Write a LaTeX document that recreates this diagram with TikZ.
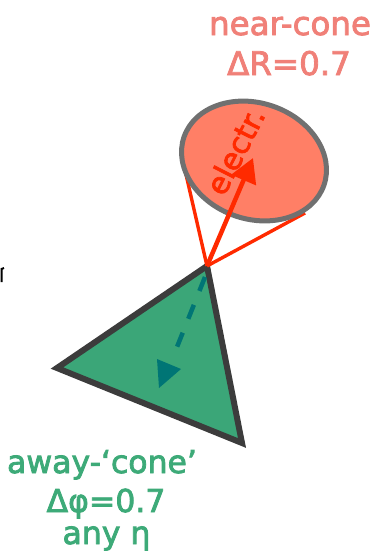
\documentclass[tikz,border=0pt]{standalone}
\usepackage{fontspec}
\setmainfont[FakeBold=2.5]{DejaVu Sans}
\usetikzlibrary{arrows.meta}
\definecolor{salmontxt}{HTML}{F08078}
\definecolor{greentxt}{HTML}{3DAA78}
\definecolor{conefill}{HTML}{FF7F66}
\definecolor{conerim}{HTML}{707070}
\definecolor{redline}{HTML}{FF2A00}
\definecolor{trifill}{HTML}{3BA678}
\definecolor{tririm}{HTML}{3C3C3C}
\definecolor{tealdash}{HTML}{007575}
\tikzset{
  lbl/.style={font=\fontsize{32.5}{34}\selectfont, anchor=base, inner sep=0pt},
  redlbl/.style={lbl, text=salmontxt},
  greenlbl/.style={lbl, text=greentxt, font=\fontsize{31.5}{33}\selectfont},
  tangent/.style={draw=redline, line width=3.4pt},
}
\begin{document}
\begin{tikzpicture}[x=1pt,y=-1pt]
\useasboundingbox (0,0) rectangle (381,560);
% key points
\coordinate (apex) at (207,266);
\coordinate (tleft) at (57,368);
\coordinate (tbot) at (242,443);
\coordinate (ec) at (254,161);
\coordinate (tanA) at (182,157);
\coordinate (tanB) at (305,213);
\coordinate (etip) at (253,158);
\coordinate (dstart) at (205,277);
\coordinate (dend) at (175,352);
\coordinate (ha) at (157,359);
\coordinate (hb) at (181,369);
\coordinate (hc) at (159,388);
% away cone
\draw[tririm, fill=trifill, line width=6pt, line join=miter] (apex) -- (tleft) -- (tbot) -- cycle;
% dashed teal
\draw[tealdash, line width=4.5pt, dash pattern=on 15pt off 15pt] (dstart) -- (dend);
\fill[tealdash] (ha) -- (hb) -- (hc) -- cycle;
% tangent lines
\draw[tangent] (apex) -- (tanA);
\draw[tangent] (apex) -- (tanB);
% near cone ellipse
\draw[conerim, fill=conefill, line width=5pt, rotate around={-19:(ec)}] (ec) ellipse [x radius=74, y radius=58];
% electron arrow
\draw[redline, line width=4.5pt, -{Triangle[length=24pt,width=26pt]}] (apex) -- (etip);
\node[font=\fontsize{30}{31}\selectfont, text=redline, rotate=63, inner sep=0pt] (el) at (235,151) {electr.};
% labels
\node[redlbl] (nc) at (290,35) {near-cone};
\node[redlbl] (dr) at (289,75) {ΔR=0.7};
\node[greenlbl] (ac) at (102,473) {away-‘cone’};
\node[greenlbl] (dp) at (106,512) {Δφ=0.7};
\node[greenlbl] (ae) at (106.5,544) {any η};
% small mark at left edge
\draw[black, line width=2pt] (1.5,282) -- (1.5,269) -- (4,268);
\end{tikzpicture}
\end{document}
